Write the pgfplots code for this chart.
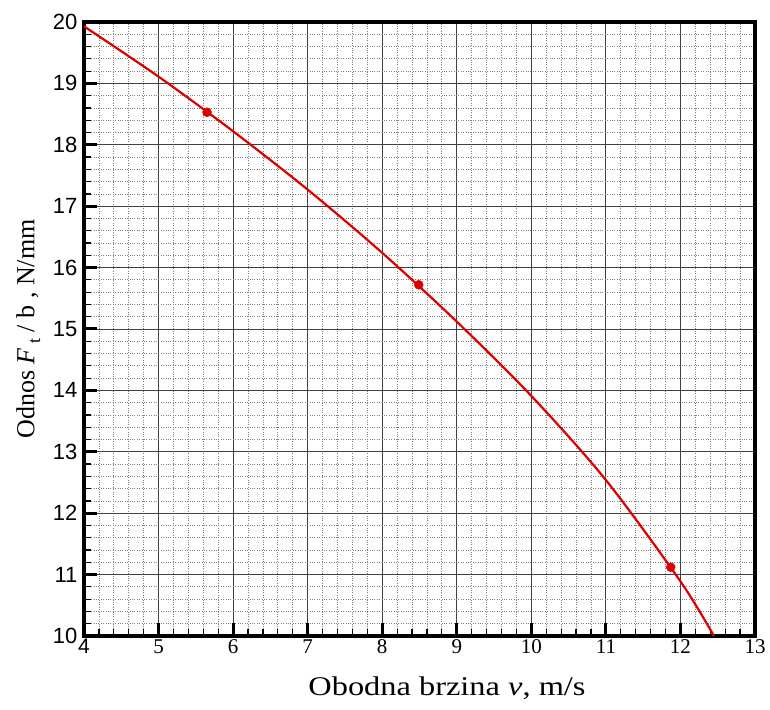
\documentclass[border=0pt]{standalone}
\usepackage{fontspec}
\setmainfont{Liberation Serif}
\setsansfont{Liberation Sans}
\usepackage{pgfplots}
\pgfplotsset{compat=1.18}
\definecolor{curvered}{RGB}{221,0,0}
\newcommand{\xt}[1]{\fontsize{21}{21}\selectfont #1}
\begin{document}
\begin{tikzpicture}
\useasboundingbox (-84pt,-73pt) rectangle (686pt,636pt);
\begin{axis}[
  at={(0pt,0pt)}, anchor=south west,
  width=671pt, height=614pt, scale only axis,
  xmin=4, xmax=13, ymin=10, ymax=20,
  xtick={4,5,6,7,8,9,10,11,12,13},
  ytick={10,11,12,13,14,15,16,17,18,19,20},
  xticklabels={{\xt{\sffamily 4}},{\xt{5}},{\xt{6}},{\xt{7}},{\xt{8}},{\xt{9}},{\xt{10}},{\xt{11}},{\xt{12}},{\xt{13}}},
  yticklabel={\sffamily\fontsize{22}{22}\selectfont\pgfmathprintnumber[assume math mode=true]{\tick}},
  minor x tick num=4, minor y tick num=4,
  grid=both,
  major grid style={black!75, line width=0.9pt},
  minor grid style={black!50, dotted, line width=0.8pt},
  tick align=inside, tick pos=left,
  major tick length=13pt, minor tick length=7pt,
  major tick style={line width=3pt, black},
  minor tick style={line width=1.2pt, black},
  axis line style={line width=3.5pt},
  yticklabel style={xshift=-3pt},
  xlabel={\scalebox{1.2}[1]{Obodna brzina \textit{v}, m/s}},
  xlabel style={font=\fontsize{27}{27}\selectfont, at={(axis description cs:0.541,-0.085)}, anchor=center},
  ylabel={Odnos \textit{F}\,\raisebox{-0.5ex}{\fontsize{18}{18}\selectfont t}\ / b , N/mm},
  ylabel style={font=\fontsize{26}{26}\selectfont, at={(axis description cs:-0.083,0.5)}, anchor=center},
]
\addplot[curvered, line width=2.2pt, smooth] coordinates {
(4,19.93) (5,19.11) (6,18.22) (7,17.27) (8,16.24) (9,15.12) (10,13.91)
(11,12.54) (12,10.89) (12.45,10.0)
};
\addplot[only marks, mark=*, mark size=4.5pt, curvered, mark options={fill=curvered, draw=curvered}] coordinates {
(5.65,18.53) (8.49,15.72) (11.87,11.12)
};
\end{axis}
\end{tikzpicture}
\end{document}
